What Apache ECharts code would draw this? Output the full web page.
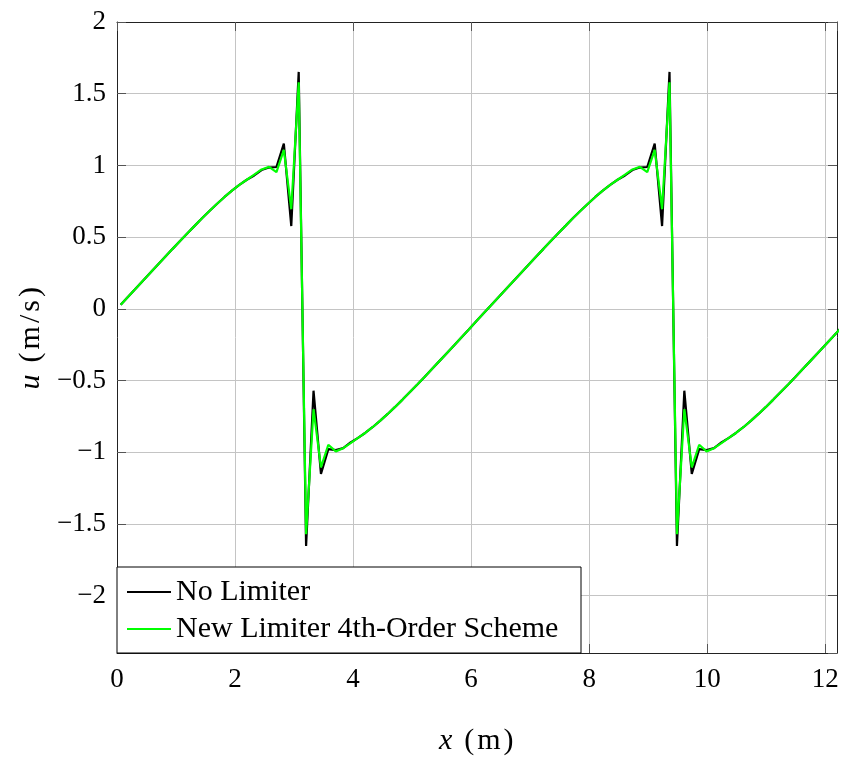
<!DOCTYPE html>
<html>
<head>
<meta charset="utf-8">
<script src="https://cdn.jsdelivr.net/npm/echarts@6/dist/echarts.min.js"></script>
<style>html,body{margin:0;padding:0;background:#fff;}#c{width:844px;height:758px;}</style>
</head>
<body>
<div id="c"></div>
<script>
const X = [0.063,0.188,0.314,0.440,0.565,0.691,0.817,0.942,1.068,1.194,1.319,1.445,1.571,1.696,1.822,1.948,2.073,2.199,2.325,2.450,
2.576,2.702,2.827,2.953,3.079,3.204,3.330,3.456,3.581,3.707,3.833,3.958,4.084,4.210,4.335,4.461,4.587,4.712,4.838,4.964,
5.089,5.215,5.341,5.466,5.592,5.718,5.843,5.969,6.095,6.220,6.346,6.472,6.597,6.723,6.849,6.974,7.100,7.226,7.351,7.477,
7.603,7.728,7.854,7.980,8.105,8.231,8.357,8.482,8.608,8.734,8.859,8.985,9.111,9.236,9.362,9.488,9.613,9.739,9.865,9.990,
10.116,10.242,10.367,10.493,10.619,10.744,10.870,10.996,11.121,11.247,11.373,11.498,11.624,11.750,11.875,12.001,12.127,12.252];

const noLimiter = [
0.028,0.084,0.140,0.196,0.252,0.308,0.363,0.418,0.473,0.527,0.580,0.633,0.684,0.733,0.780,0.824,0.864,0.900,0.930,0.968,0.985,0.989,1.152,0.577,1.652,
-1.653,-0.571,-1.152,-0.978,-0.985,-0.971,-0.932,-0.900,-0.864,-0.824,-0.780,-0.733,-0.684,-0.633,-0.580,-0.527,-0.473,-0.418,-0.363,-0.308,-0.252,-0.196,-0.140,-0.084,-0.028,
0.028,0.084,0.140,0.196,0.252,0.308,0.363,0.418,0.473,0.527,0.580,0.633,0.684,0.733,0.780,0.824,0.864,0.900,0.930,0.968,0.985,0.989,1.152,0.577,1.652,
-1.653,-0.571,-1.152,-0.978,-0.985,-0.971,-0.932,-0.900,-0.864,-0.824,-0.780,-0.733,-0.684,-0.633,-0.580,-0.527,-0.473,-0.418,-0.363,-0.308,-0.252,-0.196,-0.140];

const newLimiter = [
0.028,0.084,0.140,0.196,0.252,0.308,0.363,0.418,0.473,0.527,0.580,0.633,0.684,0.733,0.780,0.824,0.864,0.900,0.936,0.972,0.990,0.953,1.108,0.695,1.580,
-1.571,-0.700,-1.106,-0.948,-0.994,-0.972,-0.936,-0.900,-0.864,-0.824,-0.780,-0.733,-0.684,-0.633,-0.580,-0.527,-0.473,-0.418,-0.363,-0.308,-0.252,-0.196,-0.140,-0.084,-0.028,
0.028,0.084,0.140,0.196,0.252,0.308,0.363,0.418,0.473,0.527,0.580,0.633,0.684,0.733,0.780,0.824,0.864,0.900,0.936,0.972,0.990,0.953,1.108,0.695,1.580,
-1.571,-0.700,-1.106,-0.948,-0.994,-0.972,-0.936,-0.900,-0.864,-0.824,-0.780,-0.733,-0.684,-0.633,-0.580,-0.527,-0.473,-0.418,-0.363,-0.308,-0.252,-0.196,-0.140];

const seriesNames = ['No Limiter', 'New Limiter 4th-Order Scheme'];
const xRange = [0, 12.2];
const yRange = [-2.4, 2];

const FONT = '"Liberation Serif", "Times New Roman", serif';
const minus = v => String(v).replace('-', '\u2212');

const chart = echarts.init(document.getElementById('c'), null, {renderer: 'canvas'});
const axisLineStyle = {color: '#222', width: 1};
const tickStyle = {color: '#555', width: 1};
const gridStyle = {color: '#c4c4c4', width: 1};
const nameRich = {
  i: {fontFamily: FONT, fontStyle: 'italic', fontSize: 30, color: '#000', padding: [0, 3, 0, 0]},
  c: {fontFamily: FONT, fontSize: 30, color: '#000', padding: [0, 1.5, 0, 1.5]}
};

chart.setOption({
  animation: false,
  backgroundColor: '#fff',
  grid: {left: 117, right: 7, top: 22, bottom: 105, outerBoundsMode: 'none', containLabel: false},
  xAxis: [{
    type: 'value', min: xRange[0], max: xRange[1], splitNumber: 6, minInterval: 2, maxInterval: 2,
    position: 'bottom',
    name: '{i|x} {c|(}{c|m}{c|)}', nameLocation: 'middle', nameGap: 73,
    nameTextStyle: {fontFamily: FONT, fontSize: 30, color: '#000', rich: nameRich},
    axisLine: {show: true, onZero: false, lineStyle: axisLineStyle},
    axisTick: {show: true, inside: true, length: 9, lineStyle: tickStyle},
    axisLabel: {fontFamily: FONT, fontSize: 27, color: '#000', margin: 13, showMaxLabel: false, formatter: minus},
    splitLine: {show: true, lineStyle: gridStyle}
  }, {
    type: 'value', min: xRange[0], max: xRange[1], splitNumber: 6, minInterval: 2, maxInterval: 2,
    position: 'top',
    axisLine: {show: true, onZero: false, lineStyle: axisLineStyle},
    axisTick: {show: true, inside: true, length: 9, lineStyle: tickStyle},
    axisLabel: {show: false}, splitLine: {show: false}
  }],
  yAxis: [{
    type: 'value', min: yRange[0], max: yRange[1], splitNumber: 9, minInterval: 0.5, maxInterval: 0.5,
    position: 'left',
    name: '{i|u} {c|(}{c|m}{c|/}{c|s}{c|)}', nameLocation: 'middle', nameGap: 69,
    nameTextStyle: {fontFamily: FONT, fontSize: 30, color: '#000', rich: nameRich},
    axisLine: {show: true, onZero: false, lineStyle: axisLineStyle},
    axisTick: {show: true, inside: true, length: 9, lineStyle: tickStyle},
    axisLabel: {fontFamily: FONT, fontSize: 27, color: '#000', margin: 11, showMinLabel: false, formatter: minus},
    splitLine: {show: true, lineStyle: gridStyle}
  }, {
    type: 'value', min: yRange[0], max: yRange[1], splitNumber: 9, minInterval: 0.5, maxInterval: 0.5,
    position: 'right',
    axisLine: {show: true, onZero: false, lineStyle: axisLineStyle},
    axisTick: {show: true, inside: true, length: 9, lineStyle: tickStyle},
    axisLabel: {show: false}, splitLine: {show: false}
  }],
  legend: {
    orient: 'vertical', left: 117, top: 567, z: 10,
    padding: [10, 10, 0, 10], itemGap: 7, itemWidth: 44, itemHeight: 2, icon: 'rect',
    textStyle: {fontFamily: FONT, fontSize: 30, color: '#000'},
    data: seriesNames
  },
  graphic: [{
    type: 'rect', z: 9, silent: true,
    shape: {x: 117, y: 567, width: 464, height: 86},
    style: {fill: '#fff', stroke: '#000', lineWidth: 1}
  }],
  series: [{
    name: seriesNames[0], type: 'line', symbol: 'none', z: 2,
    lineStyle: {color: '#000', width: 2.2}, itemStyle: {color: '#000'},
    data: X.map((x, i) => [x, noLimiter[i]])
  }, {
    name: seriesNames[1], type: 'line', symbol: 'none', z: 3,
    lineStyle: {color: '#00ff00', width: 2.2}, itemStyle: {color: '#00ff00'},
    data: X.map((x, i) => [x, newLimiter[i]])
  }]
});
</script>
</body>
</html>
